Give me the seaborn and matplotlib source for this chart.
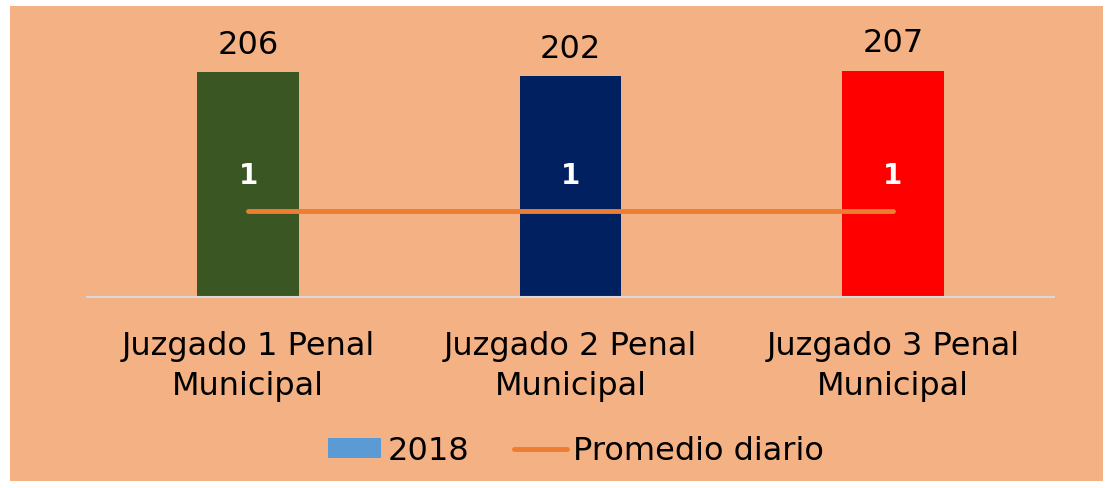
import numpy as np
import pandas as pd
import matplotlib.pyplot as plt
import seaborn as sns
from matplotlib.patches import Patch, Rectangle
from matplotlib.lines import Line2D

# data
juzgados = ["Juzgado 1 Penal\nMunicipal", "Juzgado 2 Penal\nMunicipal", "Juzgado 3 Penal\nMunicipal"]
casos_2018 = [206, 202, 207]
promedio_diario = [1, 1, 1]
colores = ["#3A5723", "#002060", "#FF0000"]

peach = "#F4B183"
sns.set_theme(style="white")
plt.rcParams['font.family'] = ['DejaVu Sans']
plt.rcParams['text.color'] = 'black'
plt.rcParams['xtick.color'] = 'black'

fig = plt.figure(figsize=(11.12, 4.89), dpi=100, facecolor="white")
# peach panel inside a thin white border
fig.patches.append(Rectangle((10 / 1112, 7 / 489), 1093 / 1112, 475 / 489,
                             transform=fig.transFigure, facecolor=peach,
                             edgecolor="none", zorder=-10))
ax = fig.add_axes([87 / 1112, 191 / 489, 967 / 1112, 273 / 489])
ax.set_facecolor("none")

df = pd.DataFrame({"juzgado": juzgados, "casos": casos_2018})
sns.barplot(data=df, x="juzgado", y="casos", hue="juzgado", palette=colores,
            width=0.316, legend=False, ax=ax, saturation=1, linewidth=0)
ax.set_ylim(0, 250)
ax.set_xlim(-0.5, 2.5)
for cont in ax.containers:
    ax.bar_label(cont, padding=9, fontsize=23, color="black")

ax.set_xlabel("")
ax.set_ylabel("")
ax.set_yticks([])
ax.tick_params(axis="x", length=0, labelsize=23, pad=24, labelcolor="black")
for lbl in ax.get_xticklabels():
    lbl.set_linespacing(1.35)
for s in ["top", "right", "left"]:
    ax.spines[s].set_visible(False)
ax.spines["bottom"].set_color("#D9D9D9")
ax.spines["bottom"].set_linewidth(1.5)

# secondary axis for daily average
ax2 = ax.twinx()
sns.lineplot(x=np.arange(len(promedio_diario)), y=promedio_diario, ax=ax2,
             color="#ED7D31", linewidth=3.5, solid_capstyle="round")
ax2.set_ylim(0, 3.17)
ax2.set_xlim(-0.5, 2.5)
ax2.set_yticks([])
ax2.set_ylabel("")
for s in ax2.spines.values():
    s.set_visible(False)
for i, v in enumerate(promedio_diario):
    ax2.annotate(str(v), (i, v), xytext=(0, 36), textcoords="offset pixels",
                 ha="center", va="center", fontsize=20, fontweight="bold", color="white")

handles = [Patch(facecolor="#5B9BD5", edgecolor="none", label="2018"),
           Line2D([0], [0], color="#ED7D31", linewidth=3.5, solid_capstyle="round",
                  label="Promedio diario")]
leg = fig.legend(handles=handles, loc="center", bbox_to_anchor=(576 / 1112, 1 - 452 / 489),
                 ncol=2, frameon=False, fontsize=23, handlelength=1.65, handleheight=0.6,
                 handletextpad=0.2, columnspacing=1.4)
for t in leg.get_texts():
    t.set_color("black")

fig.savefig("out.png", dpi=100, facecolor="white")
